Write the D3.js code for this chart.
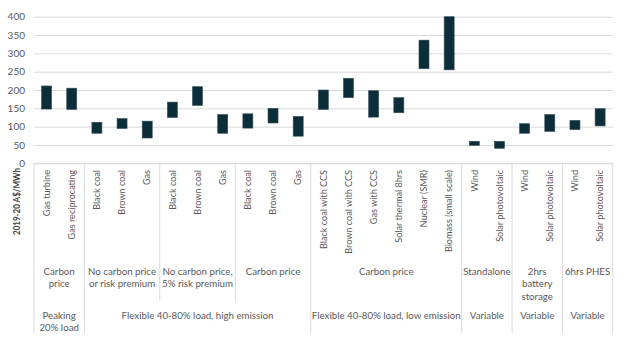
<!DOCTYPE html>
<html><head><meta charset="utf-8">
<script src="https://cdn.jsdelivr.net/npm/d3@7"></script>
<style>body{margin:0;background:#fff}svg{display:block}text{font-family:Lato,"Open Sans",sans-serif;fill:#595959}</style>
</head><body><svg id="c" width="624" height="345"></svg>
<script>
const categories=["Gas turbine","Gas reciprocating","Black coal","Brown coal","Gas","Black coal","Brown coal","Gas","Black coal","Brown coal","Gas","Black coal with CCS","Brown coal with CCS","Gas with CCS","Solar thermal 8hrs","Nuclear (SMR)","Biomass (small scale)","Wind","Solar photovoltaic","Wind","Solar photovoltaic","Wind","Solar photovoltaic"];
const lowValues=[148,147,82,95,69,125,158,82,96,110,74,147,179,126,138,258,255,49,41,82,87,92,102];
const highValues=[211,205,112,122,115,167,209,133,135,150,128,200,232,198,179,336,400,60,60,108,133,117,149];
const subGroups=[{label:["Carbon","price"],n:2},{label:["No carbon price","or risk premium"],n:3},{label:["No carbon price,","5% risk premium"],n:3},{label:["Carbon price"],n:3},{label:["Carbon price"],n:6},{label:["Standalone"],n:2},{label:["2hrs","battery","storage"],n:2},{label:["6hrs PHES"],n:2}];
const topGroups=[{label:["Peaking","20% load"],n:2},{label:["Flexible 40-80% load, high emission"],n:9},{label:["Flexible 40-80% load, low emission"],n:6},{label:["Variable"],n:2},{label:["Variable"],n:2},{label:["Variable"],n:2}];
const yTicks=[0,50,100,150,200,250,300,350,400];

const svg=d3.select("#c");
const L=34,R=612.7,T=16.7,B=163.3;
const x=d3.scaleBand().domain(d3.range(categories.length)).range([L,R]).paddingInner(0).paddingOuter(0);
const y=d3.scaleLinear().domain([0,400]).range([B,T]);
const grid="#d9d9d9";

const ya=d3.axisLeft(y).tickValues(yTicks).tickSize(-(R-L)).tickPadding(9);
const g=svg.append("g").attr("transform",`translate(${L},0)`).call(ya);
g.select(".domain").remove();
g.selectAll(".tick line").attr("stroke",grid).attr("stroke-width",1);
g.selectAll(".tick text").attr("font-size",10).style("fill","#595959").attr("font-family","Lato");

const bw=10;
svg.append("g").selectAll("rect").data(categories).join("rect")
 .attr("x",(d,i)=>x(i)+x.bandwidth()/2-bw/2)
 .attr("width",bw)
 .attr("y",(d,i)=>y(highValues[i]))
 .attr("height",(d,i)=>y(lowValues[i])-y(highValues[i]))
 .attr("fill","#0b2e3a").attr("stroke","#2f4d57").attr("stroke-width",0.6);

svg.append("g").selectAll("text").data(categories).join("text")
 .attr("transform",(d,i)=>`translate(${x(i)+x.bandwidth()/2},170) rotate(-90)`)
 .attr("text-anchor","end").attr("dy","0.35em").attr("font-size",9.1).text(d=>d);

svg.append("line").attr("x1",L).attr("x2",R).attr("y1",B).attr("y2",B).attr("stroke",grid);

const sep=svg.append("g").attr("stroke",grid).attr("stroke-width",1);
function groupBounds(groups){let s=0;return groups.map(gp=>{const a=s;s+=gp.n;return {gp,a,b:s};});}
const sb=groupBounds(subGroups), tb=groupBounds(topGroups);
const edgeX=i=> i>=categories.length? R : x(i);
const topEdges=new Set(tb.map(d=>d.a).concat([categories.length]));
sb.forEach(d=>{ if(!topEdges.has(d.a)) sep.append("line").attr("x1",edgeX(d.a)).attr("x2",edgeX(d.a)).attr("y1",B).attr("y2",301);});
[...topEdges].forEach(i=>sep.append("line").attr("x1",edgeX(i)).attr("x2",edgeX(i)).attr("y1",B).attr("y2",333));

function drawLabels(bounds,y0){
 bounds.forEach(d=>{
  const cx=(edgeX(d.a)+edgeX(d.b))/2;
  const t=svg.append("text").attr("text-anchor","middle").attr("font-size",9.7);
  d.gp.label.forEach((ln,k)=>t.append("tspan").attr("x",cx).attr("y",y0+k*12.5).attr("dy","0.35em").text(ln));
 });
}
drawLabels(sb,271.5);
drawLabels(tb,315.5);

svg.append("text").attr("transform","translate(17,201.5) rotate(-90)").attr("text-anchor","middle").attr("dy","0.35em")
 .attr("font-size",8.5).attr("font-weight","bold").attr("textLength",67).attr("lengthAdjust","spacingAndGlyphs")
 .style("fill","#404040").text("2019-20 A$/MWh");
</script></body></html>
